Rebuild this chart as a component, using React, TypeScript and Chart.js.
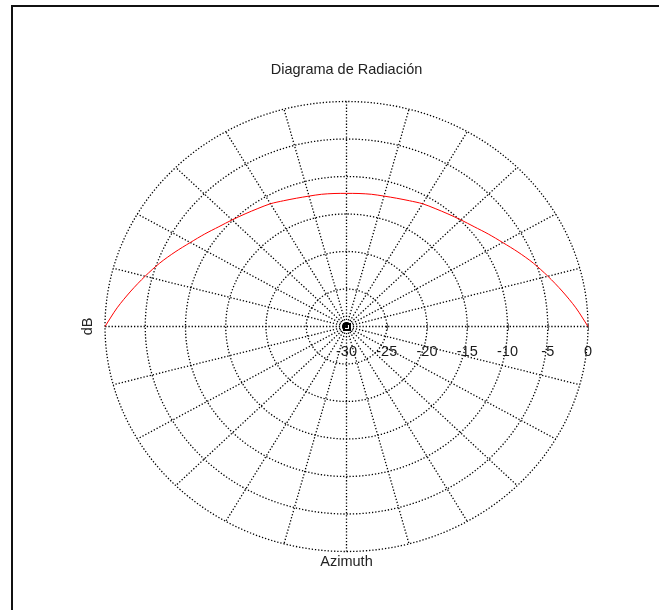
import { useEffect, useRef } from 'react';
import { Chart, registerables } from 'chart.js';

Chart.register(...registerables);

// Azimuth (degrees) and radiation pattern values (dB)
const ANGLES_DEG = [
  0, 5, 10, 15, 20, 25, 30, 35, 40, 45, 50, 55, 60, 65, 70, 75, 80, 85, 90,
  95, 100, 105, 110, 115, 120, 125, 130, 135, 140, 145, 150, 155, 160, 165, 170, 175, 180,
];
const GAIN_DB = [
  0, -1.4, -2.8, -4.1, -5.3, -6.5, -7.6, -8.5, -9.3, -9.9, -10.4, -10.8, -11.1, -11.5, -11.8, -12.0, -12.1, -12.2, -12.25,
  -12.2, -12.1, -12.0, -11.8, -11.5, -11.1, -10.8, -10.4, -9.9, -9.3, -8.5, -7.6, -6.5, -5.3, -4.1, -2.8, -1.4, 0,
];
const RING_TICKS = [-30, -25, -20, -15, -10, -5, 0];
const SPOKE_ANGLES_DEG = [0, 15, 30, 45, 60, 75, 90, 105, 120, 135, 150, 165, 180, 195, 210, 225, 240, 255, 270, 285, 300, 315, 330, 345];
const TITLE = 'Diagrama de Radiación';
const X_LABEL = 'Azimuth';
const Y_LABEL = 'dB';

const R_MIN = RING_TICKS[0];
const R_MAX = RING_TICKS[RING_TICKS.length - 1];
const R_SPAN = R_MAX - R_MIN;

const FONT = '14.5px "Liberation Sans", Arial, Helvetica, sans-serif';

const points = ANGLES_DEG.map((a, i) => {
  const r = GAIN_DB[i] - R_MIN;
  const t = (a * Math.PI) / 180;
  return { x: r * Math.cos(t), y: r * Math.sin(t) };
});

const polarPlugin = {
  id: 'polarGrid',
  beforeDraw(chart: any) {
    const ctx = chart.ctx as CanvasRenderingContext2D;
    ctx.save();
    ctx.fillStyle = '#ffffff';
    ctx.fillRect(0, 0, chart.width, chart.height);
    // figure frame
    ctx.strokeStyle = '#111111';
    ctx.lineWidth = 2;
    ctx.beginPath();
    ctx.moveTo(12, chart.height + 10);
    ctx.lineTo(12, 6);
    ctx.lineTo(chart.width + 10, 6);
    ctx.stroke();
    ctx.restore();
  },
  beforeDatasetsDraw(chart: any) {
    const ctx = chart.ctx as CanvasRenderingContext2D;
    const xs = chart.scales.x;
    const ys = chart.scales.y;
    const cx = xs.getPixelForValue(0);
    const cy = ys.getPixelForValue(0);
    ctx.save();
    ctx.strokeStyle = '#000000';
    ctx.lineWidth = 1.3;
    ctx.setLineDash([1.3, 1.9]);
    // rings
    RING_TICKS.forEach((v) => {
      const r = v - R_MIN;
      if (r <= 0) return;
      const rx = xs.getPixelForValue(r) - cx;
      const ry = cy - ys.getPixelForValue(r);
      ctx.beginPath();
      ctx.ellipse(cx, cy, rx, ry, 0, 0, Math.PI * 2);
      ctx.stroke();
    });
    // spokes
    SPOKE_ANGLES_DEG.forEach((a) => {
      const t = (a * Math.PI) / 180;
      const px = xs.getPixelForValue(R_SPAN * Math.cos(t));
      const py = ys.getPixelForValue(R_SPAN * Math.sin(t));
      ctx.beginPath();
      ctx.moveTo(cx, cy);
      ctx.lineTo(px, py);
      ctx.stroke();
    });
    ctx.setLineDash([]);
    // small ticks on 0° axis
    ctx.strokeStyle = '#666666';
    ctx.lineWidth = 1;
    RING_TICKS.forEach((v) => {
      const r = v - R_MIN;
      if (r <= 0) return;
      const px = Math.round(xs.getPixelForValue(r)) + 0.5;
      ctx.beginPath();
      ctx.moveTo(px, cy - 3);
      ctx.lineTo(px, cy + 4);
      ctx.stroke();
    });
    ctx.restore();
  },
  afterDraw(chart: any) {
    const ctx = chart.ctx as CanvasRenderingContext2D;
    const xs = chart.scales.x;
    const ys = chart.scales.y;
    const cx = xs.getPixelForValue(0);
    const cy = ys.getPixelForValue(0);
    ctx.save();
    // center marker
    ctx.strokeStyle = '#000000';
    ctx.lineWidth = 2;
    ctx.strokeRect(Math.round(cx) - 3, Math.round(cy) - 3, 6, 6);
    // ring labels
    ctx.fillStyle = '#1a1a1a';
    ctx.font = FONT;
    ctx.textAlign = 'center';
    ctx.textBaseline = 'middle';
    RING_TICKS.forEach((v) => {
      const px = xs.getPixelForValue(v - R_MIN);
      ctx.fillText(String(v), px, cy + 25);
    });
    // title and axis labels
    ctx.fillStyle = '#222222';
    ctx.fillText(TITLE, cx, 70);
    ctx.fillText(X_LABEL, cx, ys.getPixelForValue(-R_SPAN) + 10.5);
    ctx.translate(xs.getPixelForValue(-R_SPAN) - 17.5, cy);
    ctx.rotate(-Math.PI / 2);
    ctx.fillText(Y_LABEL, 0, 0);
    ctx.restore();
  },
};

export default function App() {
  const ref = useRef<HTMLCanvasElement>(null);
  useEffect(() => {
    if (!ref.current) return;
    const chart = new Chart(ref.current, {
      type: 'scatter',
      data: {
        datasets: [
          {
            data: points,
            showLine: true,
            borderColor: '#ff0000',
            borderWidth: 1,
            pointRadius: 0,
            tension: 0.3,
            clip: false,
          } as any,
        ],
      },
      options: {
        animation: false,
        responsive: true,
        maintainAspectRatio: false,
        events: [],
        layout: { padding: { left: 105, right: 71, top: 101.5, bottom: 58.5 } },
        plugins: {
          legend: { display: false },
          tooltip: { enabled: false },
          title: { display: false },
        },
        scales: {
          x: { type: 'linear', min: -R_SPAN, max: R_SPAN, display: false },
          y: { type: 'linear', min: -R_SPAN, max: R_SPAN, display: false },
        },
      },
      plugins: [polarPlugin],
    });
    return () => chart.destroy();
  }, []);
  return (
    <div style={{ position: 'absolute', left: 0, top: 0, width: 659, height: 610, background: '#fff' }}>
      <canvas ref={ref} style={{ display: 'block' }} />
    </div>
  );
}
